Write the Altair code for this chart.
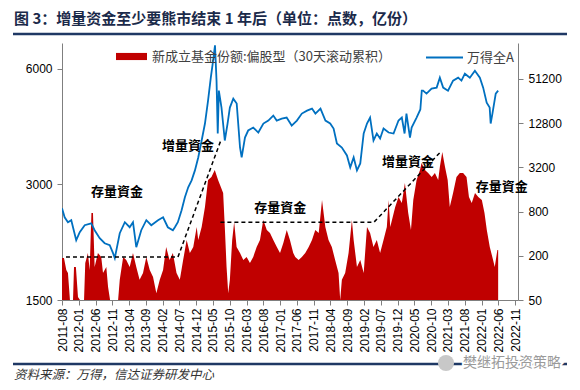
import altair as alt
import pandas as pd

FONT_CJK = "Noto Sans CJK SC"
FONT_NUM = "Liberation Sans"

TITLE = "图 3：增量资金至少要熊市结束 1 年后（单位：点数，亿份）"
SOURCE = "资料来源：万得，信达证券研发中心"
WATERMARK = "樊继拓投资策略"
FUND_LABEL = "新成立基金份额:偏股型（30天滚动累积）"
INDEX_LABEL = "万得全A"

# 万得全A (left axis, points)
idx_dates = ["2011-08-01","2011-08-25","2011-09-24","2011-10-24","2011-12-08","2012-01-09","2012-02-23","2012-04-22","2012-05-23","2012-07-08",
             "2012-08-22","2012-10-07","2012-11-06","2012-11-22","2013-01-06","2013-02-21","2013-04-06","2013-05-06","2013-06-05","2013-07-20",
             "2013-09-04","2013-10-19","2013-12-19","2014-02-03","2014-03-18","2014-05-03","2014-05-21","2014-06-17","2014-07-21","2014-08-20",
             "2014-09-19","2014-10-20","2014-11-19","2014-12-19","2015-01-19","2015-02-18","2015-03-18","2015-04-12","2015-05-03","2015-05-20",
             "2015-06-03","2015-06-14","2015-06-24","2015-07-18","2015-08-17","2015-09-11","2015-10-02","2015-11-02","2015-12-03","2016-01-02",
             "2016-01-17","2016-02-16","2016-03-16","2016-05-01","2016-06-16","2016-08-01","2016-09-15","2016-10-30","2016-11-30","2017-01-15",
             "2017-02-28","2017-04-15","2017-06-01","2017-07-16","2017-09-01","2017-10-16","2017-11-16","2018-01-01","2018-02-15","2018-03-30",
             "2018-04-30","2018-05-30","2018-07-14","2018-08-29","2018-09-28","2018-10-29","2018-11-28","2018-12-28","2019-01-28","2019-02-27",
             "2019-03-27","2019-04-27","2019-05-27","2019-06-26","2019-07-27","2019-09-11","2019-10-26","2019-12-10","2020-01-09","2020-02-03",
             "2020-02-20","2020-03-23","2020-04-07","2020-05-22","2020-06-25","2020-07-08","2020-07-20","2020-08-20","2020-10-05","2020-11-20",
             "2020-12-19","2021-01-18","2021-03-03","2021-04-18","2021-06-03","2021-07-03","2021-08-03","2021-09-17","2021-11-02","2021-12-17",
             "2022-01-16","2022-02-17","2022-03-16","2022-03-25","2022-04-10","2022-05-10","2022-06-01"]
idx_values = [2600,2463,2391,2420,2147,2252,2348,2376,2279,2173,
              2108,2084,1986,1928,2238,2391,2320,2391,2059,2279,
              2420,2348,2420,2463,2320,2279,2320,2391,2568,2776,
              2947,3072,3262,3525,3902,4320,4956,5686,6294,6900,
              5586,4069,5261,4753,3902,4320,4753,5015,4868,3742,
              3525,3972,4143,4217,4093,4320,4398,4531,4398,4450,
              4477,4268,4398,4585,4668,4725,4585,4725,4398,4320,
              4192,3833,3742,3568,3321,3525,3262,3402,4069,4320,
              4477,3902,4069,3950,4192,4093,4069,4398,4477,4069,
              4585,3972,4217,4477,4700,5261,5261,5168,5325,5357,
              5686,5357,5261,5586,5686,5586,5823,5686,5929,5686,
              5357,4897,4753,4320,4585,5168,5261]

# 新成立基金份额 偏股型 30天滚动累积 (right axis, 亿份)
fund_dates = ["2011-08-01","2011-08-19","2011-09-09","2011-09-24","2011-10-12","2011-11-09","2011-11-18","2011-12-05","2011-12-24","2012-01-11",
              "2012-02-17","2012-02-28","2012-03-23","2012-04-08","2012-04-24","2012-05-08","2012-05-23","2012-06-22","2012-07-22","2012-08-07",
              "2012-09-06","2012-09-22","2012-10-10","2012-12-22","2013-01-06","2013-02-06","2013-03-06","2013-04-06","2013-05-06","2013-06-05",
              "2013-07-05","2013-08-05","2013-09-04","2013-10-05","2013-11-04","2013-12-04","2014-01-04","2014-02-03","2014-03-03","2014-04-03",
              "2014-05-03","2014-06-05","2014-07-05","2014-08-04","2014-09-05","2014-10-04","2014-11-04","2014-12-05","2014-12-19","2015-01-19",
              "2015-02-18","2015-03-18","2015-04-18","2015-05-18","2015-06-17","2015-07-12","2015-08-02","2015-08-17","2015-09-02","2015-09-17",
              "2015-10-02","2015-10-23","2015-11-10","2015-12-02","2016-01-02","2016-02-01","2016-03-02","2016-04-01","2016-05-01","2016-06-01",
              "2016-07-01","2016-07-31","2016-09-01","2016-09-30","2016-10-30","2016-12-01","2016-12-30","2017-01-29","2017-03-01","2017-03-30",
              "2017-04-29","2017-05-17","2017-06-17","2017-07-16","2017-08-16","2017-09-16","2017-10-16","2017-11-15","2017-12-16","2018-01-15",
              "2018-02-14","2018-03-15","2018-04-14","2018-05-14","2018-06-14","2018-06-29","2018-07-14","2018-08-13","2018-09-13","2018-10-13",
              "2018-10-29","2018-11-28","2018-12-28","2019-01-28","2019-02-27","2019-03-27","2019-04-27","2019-05-27","2019-06-26","2019-07-27",
              "2019-08-26","2019-09-11","2019-09-26","2019-11-10","2019-12-10","2020-01-09","2020-02-06","2020-03-07","2020-04-01","2020-04-22",
              "2020-05-22","2020-06-22","2020-07-06","2020-08-06","2020-09-04","2020-10-06","2020-11-04","2020-12-04","2020-12-19","2021-01-10",
              "2021-02-04","2021-02-28","2021-03-19","2021-04-18","2021-05-19","2021-06-18","2021-07-18","2021-08-18","2021-09-09","2021-10-04",
              "2021-11-03","2021-12-03","2022-01-04","2022-01-28","2022-02-18","2022-03-17","2022-04-16","2022-05-01","2022-05-25","2022-06-01"]
fund_values = [187,187,128,117,50,50,141,141,55,50,
               50,160,218,128,766,766,141,218,193,117,
               141,75,50,50,94,193,175,141,218,141,
               94,117,193,128,103,62,94,128,264,175,
               218,117,94,175,328,218,264,494,328,494,
               924,2155,2369,2950,2155,1730,1434,494,141,62,
               94,328,577,264,218,175,193,160,193,264,
               328,615,449,409,328,264,218,299,449,328,
               218,193,175,193,218,264,328,449,409,1151,
               494,328,264,175,117,50,94,117,218,615,
               328,141,175,117,494,409,264,328,218,328,
               494,1151,494,924,1265,1048,1962,766,449,1151,
               2155,2950,3674,2950,2686,2369,2686,2155,3241,5188,
               3241,2155,924,1434,2369,2686,2686,2369,1265,1048,
               1434,1265,1151,766,449,264,175,141,240,240]

# dashed guide lines (left axis values)
dash_group = ["a", "a", "a", "b", "b", "b"]
dash_dates = ["2011-09-06", "2014-06-18", "2015-07-12", "2015-07-08", "2019-05-01", "2020-12-20"]
dash_values = [1940, 1940, 3905, 2391, 2391, 3630]

# annotations (left axis values)
ann_text = ["存量資金", "增量資金", "存量資金", "增量資金", "存量資金"]
ann_dates = ["2012-12-13", "2014-09-16", "2017-01-01", "2020-03-04", "2022-07-04"]
ann_values = [2860, 3766, 2600, 3425, 2948]

x_tick_labels = ["2011-08","2012-01","2012-06","2012-11","2013-04","2013-09","2014-02","2014-07","2014-12","2015-05",
                 "2015-10","2016-03","2016-08","2017-01","2017-06","2017-11","2018-04","2018-09","2019-02","2019-07",
                 "2019-12","2020-05","2020-10","2021-03","2021-08","2022-01","2022-06","2022-11"]
left_ticks = [1500, 3000, 6000]
right_ticks = [50, 200, 800, 3200, 12800, 51200]


def dt(s):
    p = s.split("-")
    d = int(p[2]) if len(p) > 2 else 1
    return alt.DateTime(year=int(p[0]), month=int(p[1]), date=d, utc=True)


fund_df = pd.DataFrame({"d": fund_dates, "v": fund_values, "s": FUND_LABEL})
idx_df = pd.DataFrame({"d": idx_dates, "v": idx_values, "s": INDEX_LABEL})
dash_df = pd.DataFrame({"d": dash_dates, "v": dash_values, "g": dash_group})
ann_df = pd.DataFrame({"d": ann_dates, "v": ann_values, "t": ann_text})

x_scale = alt.Scale(type="utc", domain=[dt("2011-08-01"), dt("2022-11-28")])
left_scale = alt.Scale(type="log", domain=[1500, 7000], nice=False)
right_scale = alt.Scale(type="log", domain=[50, 158000], nice=False)
AX = "#7f7f7f"

x_axis = alt.Axis(values=[dt(s) for s in x_tick_labels],
                  labelExpr="utcFormat(datum.value, '%Y-%m')",
                  labelAngle=-90, labelFont=FONT_NUM, labelFontSize=12, labelColor="#000",
                  tickSize=5, tickColor=AX, domainColor=AX, labelPadding=3, title=None, grid=False,
                  labelOverlap=False, labelFlush=False)
left_axis = alt.Axis(orient="left", values=left_ticks, format="d", title=None, grid=False,
                     labelFont=FONT_NUM, labelFontSize=12, labelColor="#000",
                     tickSize=5, tickColor=AX, domainColor=AX, labelPadding=5)
right_axis = alt.Axis(orient="right", values=right_ticks, format="d", title=None, grid=False,
                      labelFont=FONT_NUM, labelFontSize=12, labelColor="#000",
                      tickSize=5, tickColor=AX, domainColor=AX, labelPadding=5)

X = alt.X("d:T", scale=x_scale, axis=x_axis)
YL = alt.Y("v:Q", scale=left_scale, axis=left_axis)

area = alt.Chart(fund_df).mark_area(clip=True, opacity=1).encode(
    x=X,
    y=alt.Y("v:Q", scale=right_scale, axis=right_axis),
    y2=alt.datum(50),
    fill=alt.Fill("s:N", scale=alt.Scale(domain=[FUND_LABEL], range=["#C00000"]),
                  legend=alt.Legend(orient="none", legendX=54, legendY=-2, title=None, padding=0,
                                    symbolType="M-1,-0.23H1V0.23H-1Z", symbolSize=961,
                                    symbolStrokeWidth=0, labelFont=FONT_CJK, labelFontSize=13,
                                    labelColor="#404040", labelOffset=5, labelLimit=400)),
)

line = alt.Chart(idx_df).mark_line(strokeWidth=1.8, clip=True).encode(
    x=X,
    y=YL,
    stroke=alt.Stroke("s:N", scale=alt.Scale(domain=[INDEX_LABEL], range=["#0070C0"]),
                      legend=alt.Legend(orient="none", legendX=363, legendY=-5, title=None, padding=0,
                                        symbolType="stroke", symbolSize=1369, symbolStrokeWidth=2,
                                        labelFont=FONT_CJK, labelFontSize=13, labelColor="#404040",
                                        labelOffset=3, labelLimit=200)),
)

dashes = alt.Chart(dash_df).mark_line(color="black", strokeWidth=1.5, strokeDash=[4, 3]).encode(
    x=X,
    y=YL,
    detail="g:N",
)

ann = alt.Chart(ann_df).mark_text(font=FONT_CJK, fontSize=13, fontWeight="bold", color="black",
                                  align="center", baseline="middle").encode(
    x=X,
    y=YL,
    text="t:N",
)

left_group = alt.layer(line, dashes, ann)

one = pd.DataFrame({"t": [TITLE]})
title_mark = alt.Chart(one).mark_text(align="left", baseline="middle", font=FONT_CJK, fontSize=15,
                                      fontWeight="bold", color="#1B2A4A").encode(
    x=alt.value(-48), y=alt.value(-24), text="t:N")
top_rule = alt.Chart(one).mark_rule(color="#1F3864", strokeWidth=2.5).encode(
    x=alt.value(-49), x2=alt.value(505), y=alt.value(-9))
bottom_rule = alt.Chart(one).mark_rule(color="#1F3864", strokeWidth=2.5).encode(
    x=alt.value(-49), x2=alt.value(505), y=alt.value(321))
src_df = pd.DataFrame({"t": [SOURCE]})
source_mark = alt.Chart(src_df).mark_text(align="left", baseline="middle", font=FONT_CJK, fontSize=12.5,
                                          fontStyle="italic", color="#333333").encode(
    x=alt.value(-48), y=alt.value(332), text="t:N")
wm_df = pd.DataFrame({"t": [WATERMARK]})
wm_halo = alt.Chart(wm_df).mark_text(align="left", baseline="middle", font=FONT_CJK, fontSize=14,
                                     color="white", stroke="white", strokeWidth=4).encode(
    x=alt.value(401), y=alt.value(320), text="t:N")
wm_text = alt.Chart(wm_df).mark_text(align="left", baseline="middle", font=FONT_CJK, fontSize=14,
                                     color="#9a9a9a").encode(
    x=alt.value(401), y=alt.value(320), text="t:N")
wm_icon = alt.Chart(one).mark_point(shape="circle", size=260, color="#c8c8c8", strokeWidth=1.2,
                                    filled=True, opacity=1).encode(
    x=alt.value(384), y=alt.value(320))

chart = alt.layer(area, left_group, title_mark, top_rule, bottom_rule, source_mark,
                  wm_icon, wm_halo, wm_text).resolve_scale(y="independent").properties(
    width=456, height=257,
    autosize=alt.AutoSizeParams(type="none"),
    padding={"left": 54, "top": 35, "right": 54, "bottom": 82},
).configure_view(stroke=None)

chart.save("out.html", embed_options={"renderer": "svg", "actions": False})
